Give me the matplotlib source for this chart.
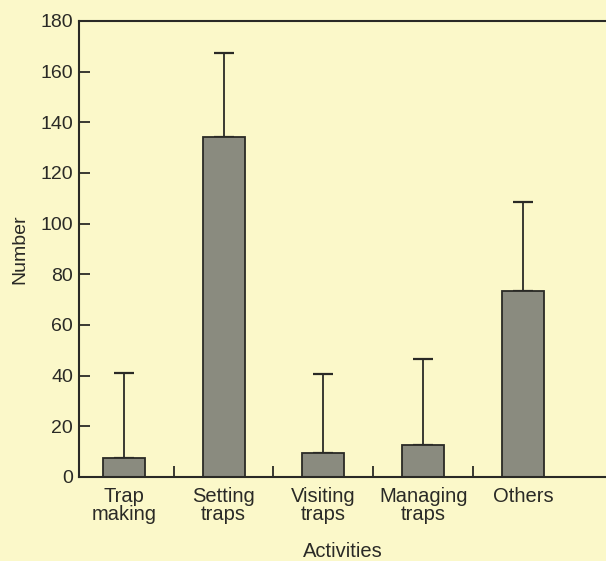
import numpy as np
import matplotlib
matplotlib.use('Agg')
import matplotlib.pyplot as plt
from matplotlib.ticker import FixedLocator

# data
activities = ['Trap\nmaking', 'Setting\ntraps', 'Visiting\ntraps', 'Managing\ntraps', 'Others']
counts = [7.5, 134, 9.5, 12.5, 73.5]
err_upper = [33.5, 33.5, 31, 34, 35]
yticks = [0, 20, 40, 60, 80, 100, 120, 140, 160, 180]

bg = '#fbf8c9'
ink = '#2a2a26'
plt.rcParams['font.family'] = ['Liberation Sans', 'DejaVu Sans']

fig = plt.figure(figsize=(6.06, 5.61), dpi=100, facecolor=bg)
ax = fig.add_axes([0.130, 0.150, 0.870, 0.8126], facecolor=bg)

x = np.arange(len(activities))
ax.bar(x, counts, width=0.42, color='#8a8b7f', edgecolor=ink, linewidth=1.3, zorder=2)
ax.errorbar(x, counts, yerr=[np.zeros(len(x)), err_upper], fmt='none',
            ecolor=ink, elinewidth=1.3, capsize=7, capthick=1.6, zorder=1)

ax.set_xlim(-0.45, 4.83)
ax.set_ylim(0, 180)
ax.set_yticks(yticks)
ax.tick_params(axis='y', direction='in', length=8, width=1.3, color=ink,
               labelsize=14, labelcolor=ink, pad=4)

ax.set_xticks(x)
ax.set_xticklabels(activities, fontsize=14.5, color=ink, linespacing=0.98, va='top')
ax.tick_params(axis='x', which='major', length=0, pad=7)
ax.xaxis.set_minor_locator(FixedLocator([0.5, 1.5, 2.5, 3.5]))
ax.tick_params(axis='x', which='minor', direction='in', length=8, width=1.3, color=ink)

for side in ['left', 'bottom', 'top']:
    ax.spines[side].set_color(ink)
    ax.spines[side].set_linewidth(1.5)
ax.spines['right'].set_visible(False)

ax.set_ylabel('Number', fontsize=14, color=ink, labelpad=9)
ax.set_xlabel('Activities', fontsize=14.5, color=ink, labelpad=13)

fig.savefig('out.png', dpi=100, facecolor=bg)
